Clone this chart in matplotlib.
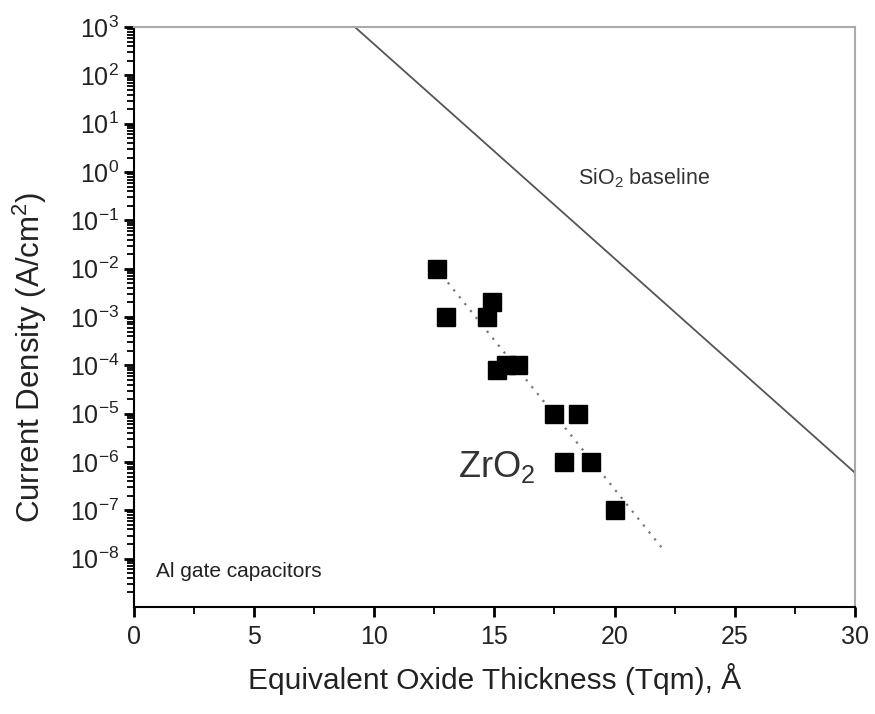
import matplotlib
matplotlib.use("Agg")
import matplotlib.pyplot as plt
from matplotlib.ticker import MultipleLocator, FixedLocator, NullFormatter

plt.rcParams['font.family'] = ['Liberation Sans', 'DejaVu Sans']
plt.rcParams['mathtext.fontset'] = 'custom'
plt.rcParams['mathtext.rm'] = 'Liberation Sans'
plt.rcParams['mathtext.it'] = 'Liberation Sans'
plt.rcParams['mathtext.bf'] = 'Liberation Sans'

# Data
zro2_eot = [12.6, 13.0, 14.7, 14.9, 15.1, 15.5, 16.0, 17.5, 18.5, 17.9, 19.0, 20.0]
zro2_j = [1e-2, 1e-3, 1e-3, 2e-3, 8e-5, 1e-4, 1e-4, 1e-5, 1e-5, 1e-6, 1e-6, 1e-7]
fit_eot = [12.6, 22.0]
fit_j = [1e-2, 1.6e-8]
sio2_eot = [9.2, 30.0]
sio2_j = [1e3, 6e-7]
y_exponents = list(range(-8, 4))

fig = plt.figure(figsize=(8.75, 7.14), dpi=100)
ax = fig.add_axes([0.153, 0.150, 0.824, 0.812])

ax.plot(sio2_eot, sio2_j, color='#555555', lw=1.3)
ax.plot(fit_eot, fit_j, color='#777777', lw=1.6, ls=(0, (1, 3)))
ax.plot(zro2_eot, zro2_j, ls='none', marker='s', ms=12.5, color='black')

ax.set_yscale('log')
ax.set_xlim(0, 30)
ax.set_ylim(1e-9, 1e3)
ax.xaxis.set_major_locator(MultipleLocator(5))
ax.xaxis.set_minor_locator(MultipleLocator(2.5))
ax.set_yticks([10.0**k for k in y_exponents])
ax.set_yticklabels([r'$10^{%d}$' % k for k in y_exponents])
minor = [m * 10.0**k for k in range(-9, 3) for m in range(2, 10)]
ax.yaxis.set_minor_locator(FixedLocator(minor))
ax.yaxis.set_minor_formatter(NullFormatter())

ax.tick_params(which='major', direction='out', length=7, width=2.0, labelsize=18, color='black',
               labelcolor='#222222')
ax.tick_params(which='minor', direction='out', length=5, width=1.3, color='black')
ax.tick_params(axis='x', pad=6)

for s in ['left', 'bottom']:
    ax.spines[s].set_color('black')
    ax.spines[s].set_linewidth(1.5)
for s in ['top', 'right']:
    ax.spines[s].set_color('#aaaaaa')
    ax.spines[s].set_linewidth(1.5)

ax.set_xlabel('Equivalent Oxide Thickness (Tqm), Å', fontsize=21.5, color='#222222', labelpad=10)
ax.set_ylabel('Current Density (A/cm$^2$)', fontsize=22.5, color='#222222')
ax.yaxis.set_label_coords(-0.118, 0.43)

ax.text(18.5, 10**-0.13, 'SiO$_2$ baseline', fontsize=15.5, color='#333333', va='center')
ax.text(13.5, 10**-6.1, 'ZrO$_2$', fontsize=26, color='#333333', va='center')
ax.text(0.9, 10**-8.26, 'Al gate capacitors', fontsize=15, color='#222222', va='center')

fig.savefig('out.png', dpi=100)
